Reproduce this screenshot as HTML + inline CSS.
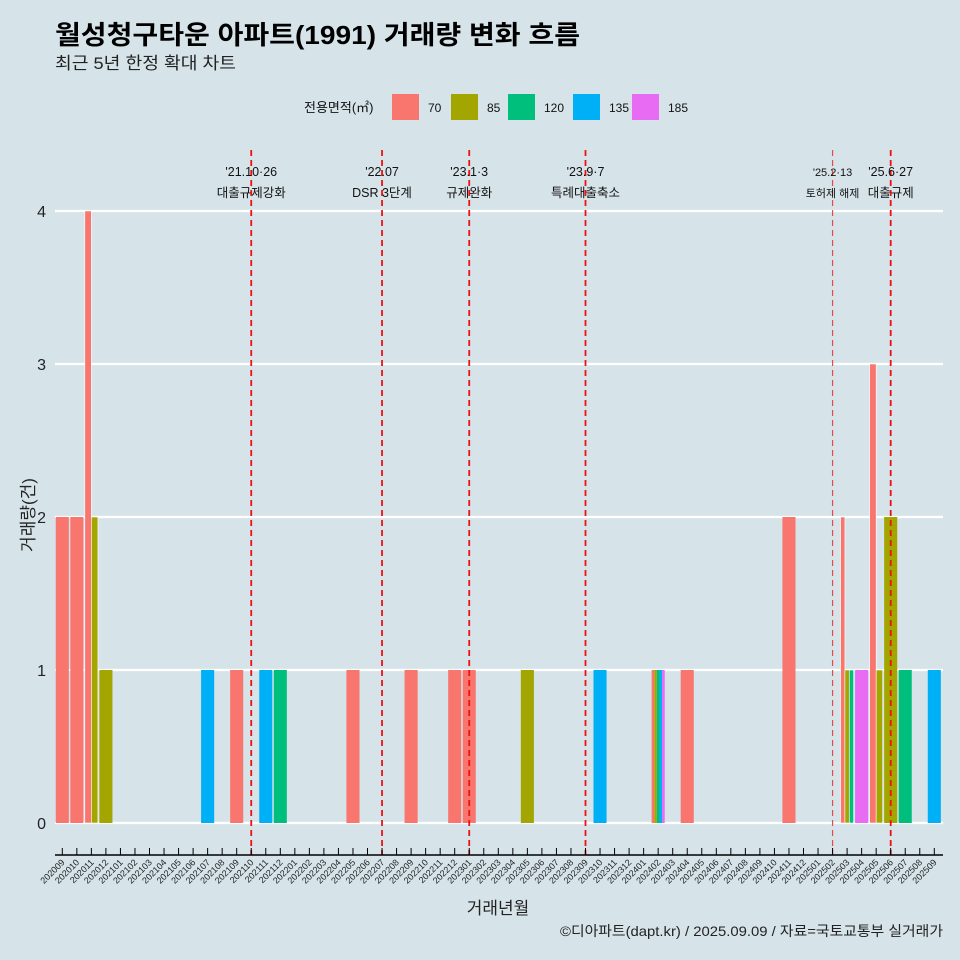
<!DOCTYPE html>
<html><head><meta charset="utf-8"><style>
body{margin:0;background:#d6e4ea;}
svg{display:block;font-family:"Liberation Sans","Noto Sans CJK KR",sans-serif;}
</style></head><body>
<svg id="c" width="960" height="960" viewBox="0 0 960 960">
<rect width="960" height="960" fill="#d6e4ea"/>
<text x="55" y="44" font-size="26" font-weight="bold" fill="#000" textLength="525" lengthAdjust="spacingAndGlyphs">월성청구타운 아파트(1991) 거래량 변화 흐름</text>
<text x="55" y="69" font-size="17" fill="#222" textLength="181" lengthAdjust="spacingAndGlyphs">최근 5년 한정 확대 차트</text>
<g id="legend"></g>
<g id="grid"></g><g id="bars"></g><g id="vlines"></g><g id="axes"></g>
<text transform="translate(34,515) rotate(-90)" text-anchor="middle" font-size="17" fill="#222">거래량(건)</text>
<text x="498" y="914" text-anchor="middle" font-size="17" fill="#222">거래년월</text>
<text x="943" y="936" text-anchor="end" font-size="14" fill="#222" textLength="383" lengthAdjust="spacingAndGlyphs">©디아파트(dapt.kr) / 2025.09.09 / 자료=국토교통부 실거래가</text>
</svg>
<script>
const sizes=["70","85","120","135","185"];
const colors=["#F8766D","#A3A500","#00BF7D","#00B0F6","#E76BF3"];
const recMonth=["202009","202010","202011","202011","202012","202107","202109","202111","202112","202205","202209","202212","202301","202305","202310","202402","202402","202402","202402","202402","202404","202411","202503","202503","202503","202504","202505","202505","202506","202507","202509"];
const recSize=["70","70","70","85","85","135","70","135","120","70","70","70","70","85","135","70","85","120","135","185","70","70","70","85","120","185","70","85","85","120","135"];
const recCount=[2,2,4,2,1,1,1,1,1,1,1,1,1,1,1,1,1,1,1,1,1,2,2,1,1,1,3,1,2,1,1];
const yTicks=[0,1,2,3,4];
const evMonth=["202110","202207","202301","202309","202502","202506"];
const evLine1=["'21.10·26","'22.07","'23.1·3","'23.9·7","'25.2·13","'25.6·27"];
const evLine2=["대출규제강화","DSR 3단계","규제완화","특례대출축소","토허제 해제","대출규제"];
const months=[];for(let y=2020,m=9;y*100+m<=202509;){months.push(""+y+(m<10?"0"+m:m));m++;if(m>12){m=1;y++;}}
const NS="http://www.w3.org/2000/svg";
function mk(p,t,a){const e=document.createElementNS(NS,t);for(const k in a)e.setAttribute(k,a[k]);p.appendChild(e);return e;}
const x0=62.3,dx=(934.3-62.3)/(months.length-1);
const X=m=>x0+months.indexOf(m)*dx;
const Y=v=>823-v*153;
const L=55,R=943;
const grid=document.getElementById('grid'),axes=document.getElementById('axes'),bars=document.getElementById('bars'),vl=document.getElementById('vlines'),lg=document.getElementById('legend');
yTicks.forEach(v=>{
 const g=mk(grid,'line',{x1:L,x2:R,y1:Y(v),y2:Y(v),stroke:'#fff','stroke-width':2.2});
 
 
 const t=mk(axes,'text',{x:46,y:Y(v)+6,'text-anchor':'end','font-size':16,fill:'#222'});t.textContent=v;
 
 
});
const bw=dx*0.9;
months.forEach(m=>{
 const idx=[];recMonth.forEach((mm,i)=>{if(mm===m)idx.push(i);});
 const n=idx.length;
 idx.forEach((i,k)=>{
  const w=bw/n,xl=X(m)-bw/2+k*w,c=colors[sizes.indexOf(recSize[i])];
  const r=mk(bars,'rect',{x:xl,y:Y(recCount[i]),width:w,height:Y(0)-Y(recCount[i]),fill:c,stroke:n>1&&n<5?'#fff':'none','stroke-width':0.6});
  
  
 });
});
evMonth.forEach((m,i)=>{
 const x=X(m),small=m==="202502";
 const l=mk(vl,'line',{x1:x,x2:x,y1:150,y2:855,stroke:small?'#e8484a':'#ee1111','stroke-width':small?1.2:1.8,'stroke-dasharray':'6,4'});
 
 
 const fs=small?11:12.5;
 const t1=mk(vl,'text',{x:x,y:176,'text-anchor':'middle','font-size':fs,fill:'#111'});t1.textContent=evLine1[i];
 
 
 const t2=mk(vl,'text',{x:x,y:197,'text-anchor':'middle','font-size':fs,fill:'#111'});t2.textContent=evLine2[i];
 
 
});
const ax=mk(axes,'line',{x1:L,x2:R,y1:855,y2:855,stroke:'#000','stroke-width':1.5});


months.forEach(m=>{
 const x=X(m);
 const tk=mk(axes,'line',{x1:x,x2:x,y1:848,y2:855,stroke:'#000','stroke-width':1});
 
 
 const t=mk(axes,'text',{transform:`translate(${x+3},${863}) rotate(-45)`,'text-anchor':'end','font-size':9,fill:'#222'});t.textContent=m;
 
 
});
const lt=mk(lg,'text',{x:304,y:112,'font-size':13,fill:'#111'});lt.textContent="전용면적(㎡)";


const lx=[392,451,508,573,632];
sizes.forEach((s,i)=>{
 const r=mk(lg,'rect',{x:lx[i],y:94,width:27,height:26,fill:colors[i]});
 
 
 const t=mk(lg,'text',{x:lx[i]+36,y:112,'font-size':12,fill:'#111'});t.textContent=s;
 
 
});
</script>
</body></html>
